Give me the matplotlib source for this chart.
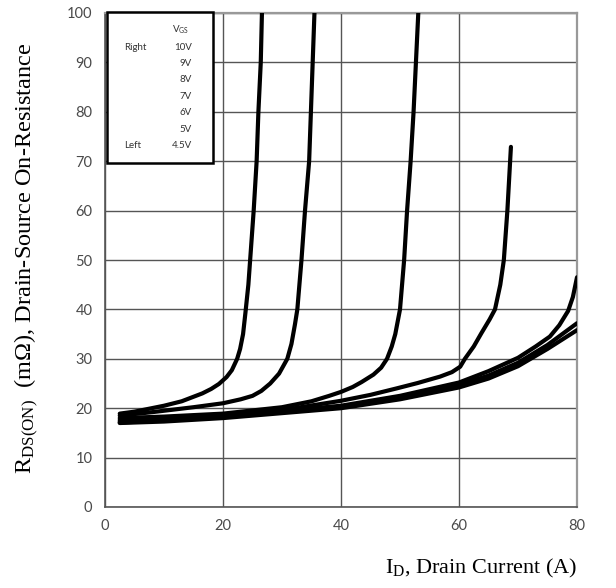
import matplotlib
matplotlib.use("Agg")
import matplotlib.pyplot as plt
from matplotlib.patches import Rectangle

plt.rcParams['mathtext.fontset'] = 'custom'
plt.rcParams['mathtext.rm'] = 'Liberation Serif'
plt.rcParams['mathtext.it'] = 'Liberation Serif'

# ---- data (ID in A, RDS(on) in mOhm) ----
x_45 = [2.5, 5, 10, 13, 16.5, 18, 19.3, 20.6, 21.5, 22.4, 22.9, 23.4, 23.8,
        24.3, 24.6, 25.2, 25.7, 26.0, 26.4, 26.6]
y_45 = [18.9, 19.3, 20.5, 21.4, 23.0, 23.9, 24.9, 26.3, 27.7, 30, 32, 35, 39.3,
        45, 50, 60, 70, 80, 90, 100]

x_5 = [2.5, 8, 15, 20, 23, 25, 26.5, 28, 29.5, 30.9, 31.6, 32.2, 32.6, 33.3,
       33.9, 34.6, 34.9, 35.2, 35.5]
y_5 = [18.5, 19.2, 20.2, 21.0, 21.8, 22.5, 23.5, 25.0, 27.0, 30, 33, 37, 40,
       50, 60, 70, 80, 90, 100]

x_6 = [2.5, 10, 20, 30, 35, 38, 40, 42, 43.5, 45.5, 46.8, 47.8, 48.6, 49.2,
       50.0, 50.7, 51.2, 51.8, 52.3, 52.7, 53.1]
y_6 = [18.0, 18.3, 18.9, 20.2, 21.4, 22.5, 23.3, 24.3, 25.3, 26.8, 28.2, 30,
       32.5, 35, 40, 50, 60, 70, 80, 90, 100]

x_7 = [2.5, 10, 20, 30, 40, 45, 49.4, 53, 56.8, 58.8, 60.2, 61.0, 62.5, 63.8,
       65.2, 66.1, 67.0, 67.6, 68.2, 68.8]
y_7 = [17.6, 17.9, 18.5, 19.6, 21.5, 22.7, 24.0, 25.1, 26.4, 27.3, 28.4, 30,
       32.5, 35.2, 38, 40, 45, 50, 60, 72.9]

x_8 = [2.5, 10, 20, 30, 40, 50, 60, 65, 70, 73, 75.4, 77, 78.5, 79.3, 80]
y_8 = [17.3, 17.6, 18.3, 19.4, 20.5, 22.5, 25.2, 27.5, 30.2, 32.5, 34.5,
       36.8, 39.7, 42.5, 46.5]

x_9 = [2.5, 10, 20, 30, 40, 50, 60, 65, 70, 75, 80]
y_9 = [17.1, 17.5, 18.2, 19.2, 20.3, 22.2, 24.7, 26.6, 29.2, 32.8, 37.2]

x_10 = [2.5, 10, 20, 30, 40, 50, 60, 65, 70, 75, 80]
y_10 = [17.0, 17.3, 18.0, 19.0, 20.0, 21.8, 24.2, 26.0, 28.5, 32.0, 35.8]

curves = [(x_45, y_45), (x_5, y_5), (x_6, y_6), (x_7, y_7),
          (x_8, y_8), (x_9, y_9), (x_10, y_10)]

x_ticks = [0, 20, 40, 60, 80]
y_ticks = [0, 10, 20, 30, 40, 50, 60, 70, 80, 90, 100]

legend_title = r"V$_\mathregular{GS}$"
legend_values = ["10V", "9V", "8V", "7V", "6V", "5V", "4.5V"]
legend_sides = {0: "Right", 6: "Left"}

# ---- figure ----
W, H = 616, 588
fig = plt.figure(figsize=(W / 100, H / 100), dpi=100)
ax = fig.add_axes([105 / W, 1 - 507 / H, (577 - 105) / W, (507 - 13) / H])

for xs, ys in curves:
    ax.plot(xs, ys, color='black', lw=3.0, solid_capstyle='round',
            solid_joinstyle='round', zorder=3)

ax.set_xlim(0, 80)
ax.set_ylim(0, 100)
ax.set_xticks(x_ticks)
ax.set_yticks(y_ticks)
ax.grid(True, color='#555555', lw=1.0, zorder=1)
ax.set_axisbelow(True)
ax.tick_params(length=0, pad=9, labelsize=10.5, labelcolor='#4a4a4a')
for lab in ax.get_xticklabels() + ax.get_yticklabels():
    lab.set_fontfamily('Lato')
for s in ['left', 'bottom']:
    ax.spines[s].set_color('#555555')
    ax.spines[s].set_linewidth(1.2)
for s in ['top', 'right']:
    ax.spines[s].set_color('#999999')
    ax.spines[s].set_linewidth(1.6)

# axis labels
fig.text(577 / W, 1 - 568 / H, r"I$_\mathregular{D}$, Drain Current (A)",
         ha='right', va='center', fontsize=16, family='Liberation Serif')
fig.text(27 / W, 1 - 258 / H,
         r"R$_\mathregular{DS(ON)}$  (m$\Omega$), Drain-Source On-Resistance",
         ha='center', va='center', rotation=90, fontsize=17.5,
         family='Liberation Serif')

# legend box
rect = Rectangle((107 / W, 1 - 163 / H), (213 - 107) / W, (163 - 12) / H,
                 transform=fig.transFigure, facecolor='white',
                 edgecolor='black', lw=1.8, zorder=5, clip_on=False)
ax.add_patch(rect)
fig.text(180 / W, 1 - 30 / H, legend_title, ha='center', va='center',
         fontsize=7, family='Lato', color='#333333', zorder=6)
for i, v in enumerate(legend_values):
    yy = 1 - (47 + i * 16.4) / H
    fig.text(192 / W, yy, v, ha='right', va='center', fontsize=7,
             family='Lato', color='#333333', zorder=6)
    if i in legend_sides:
        fig.text(124 / W, yy, legend_sides[i], ha='left', va='center',
                 fontsize=7, family='Lato', color='#333333', zorder=6)

fig.savefig("out.png", dpi=100)
